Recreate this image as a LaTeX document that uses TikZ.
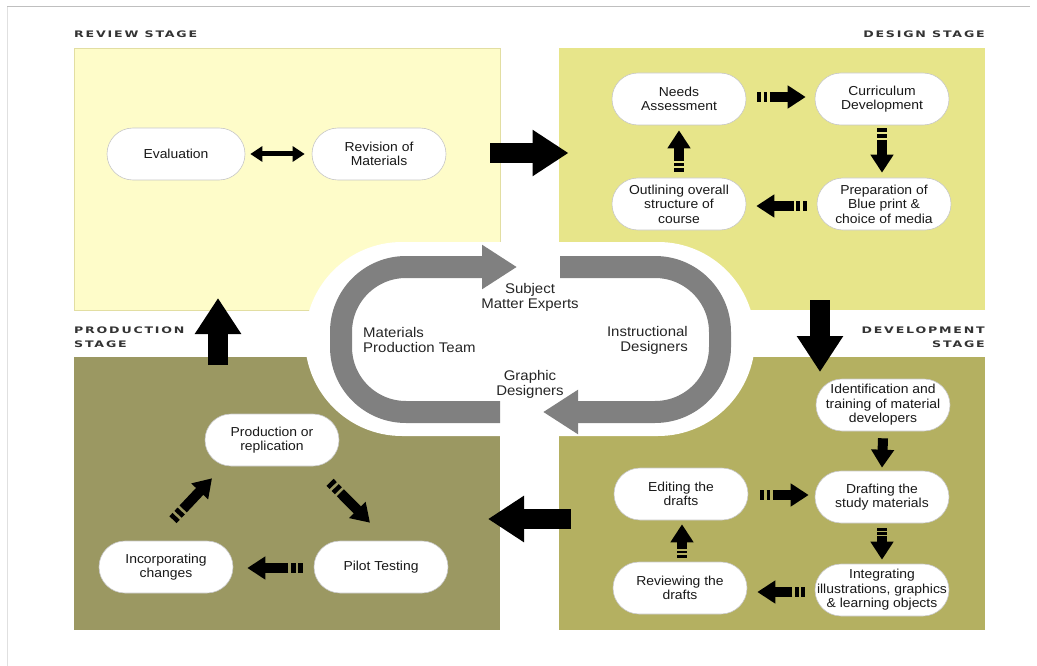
\documentclass[tikz,border=0pt]{standalone}
\usepackage{fontspec}
\setmainfont{Liberation Sans}[FakeStretch=1.07]
\newfontfamily\headfont{DejaVu Sans Bold}[FakeStretch=1.4,LetterSpace=20]
\usetikzlibrary{arrows.meta,calc}
\definecolor{revfill}{HTML}{FEFCC9}
\definecolor{revdraw}{HTML}{E2DEA2}
\definecolor{desfill}{HTML}{E7E58A}
\definecolor{prodfill}{HTML}{9B9862}
\definecolor{devfill}{HTML}{B4B061}
\definecolor{ringgray}{HTML}{808080}
\newcommand\stripearrow[2]{%
  \draw[sbar] ($(#1)!0!(#2)$) -- ($(#1)!0.08!(#2)$);
  \draw[sbar] ($(#1)!0.13!(#2)$) -- ($(#1)!0.21!(#2)$);
  \draw[sbody] ($(#1)!0.26!(#2)$) -- (#2);
}
\begin{document}
\begin{tikzpicture}[x=1pt,y=-1pt,
  quad/.style={inner sep=0pt,outer sep=0pt,minimum width=426pt,minimum height=#1},
  pill/.style={fill=white,draw=black!22,line width=0.6pt,rounded corners=26pt,
    minimum width=134pt,minimum height=52pt,inner xsep=2pt,align=center,
    font=\fontsize{13}{14.5}\selectfont,text=black!90},
  head/.style={inner sep=0pt,font=\headfont\fontsize{9}{14}\selectfont,text=black!80},
  lab/.style={inner sep=0pt,align=center,font=\fontsize{14}{15}\selectfont,text=black!85},
  sbar/.style={line width=10pt,black},
  sbody/.style={line width=10pt,black,-{Triangle[width=22pt,length=18pt]}},
  big/.style={line width=20pt,black,-{Triangle[width=44pt,length=36pt]}},
  ring/.style={line width=22pt,ringgray,rounded corners=65pt,-{Triangle[width=42pt,length=35pt]}}
]
\fill[white] (0,0) rectangle (1037,666);
\useasboundingbox (0,0) rectangle (1037,666);
\draw[black!25,line width=1pt] (7,7) -- (1030,7);
\draw[black!12,line width=0.8pt] (7,7) -- (7,666);

% quadrants
\node[quad=262pt,fill=revfill,draw=revdraw,line width=0.8pt] (revQ) at (287,179) {};
\node[quad=262pt,fill=desfill] (desQ) at (771.5,179) {};
\node[quad=273pt,fill=prodfill] (prodQ) at (287,493.5) {};
\node[quad=273pt,fill=devfill] (devQ) at (771.5,493.5) {};

% central halo and ring
\fill[white,rounded corners=97pt] (305,242) rectangle (755,436);
\draw[ring] (500,412) -- (341,412) -- (341,267) -- (517,267);
\draw[ring] (560,267) -- (720,267) -- (720,412) -- (543,412);
\node[lab] (sme) at (530,297) {Subject\\Matter Experts};
\node[lab,anchor=west,align=left] (mpt) at (363,340) {Materials\\Production Team};
\node[lab,anchor=east,align=right] (insd) at (688,340) {Instructional\\Designers};
\node[lab] (grd) at (530,384) {Graphic\\Designers};

% headings
\node[head,anchor=north west] (hrev) at (74,31) {REVIEW STAGE};
\node[head,anchor=north east] (hdes) at (985,31) {DESIGN STAGE};
\node[head,anchor=north west,align=left] (hprod) at (74,327) {PRODUCTION\\STAGE};
\node[head,anchor=north east,align=right] (hdev) at (985,327) {DEVELOPMENT\\STAGE};

% review stage
\node[pill,minimum width=138pt] (eval) at (176,154) {Evaluation};
\node[pill] (revis) at (379,154) {Revision of\\Materials};
\coordinate (ea) at ($(eval.east)+(5,0)$);
\coordinate (eb) at ($(revis.west)+(-7,0)$);
\draw[line width=5pt,{Triangle[width=15pt,length=12pt]}-{Triangle[width=15pt,length=12pt]}] (ea) -- (eb);

% design stage
\node[pill] (needs) at (679,99) {Needs\\Assessment};
\node[pill] (curr) at (882,99) {Curriculum\\Development};
\node[pill] (prep) at (884,204) {Preparation of\\Blue print \&\\choice of media};
\node[pill] (outl) at (679,204) {Outlining overall\\structure of\\course};
\coordinate (d1a) at ($(needs.east)+(11,-2)$);
\coordinate (d1b) at ($(curr.west)+(-9,-2)$);
\stripearrow{d1a}{d1b}
\coordinate (d2a) at ($(curr.south)+(0,3)$);
\coordinate (d2b) at ($(prep.north)+(-2,-5)$);
\stripearrow{d2a}{d2b}
\coordinate (d3a) at ($(prep.west)+(-10,2)$);
\coordinate (d3b) at ($(outl.east)+(10,2)$);
\stripearrow{d3a}{d3b}
\coordinate (d4a) at ($(outl.north)+(0,-6)$);
\coordinate (d4b) at ($(needs.south)+(0,5)$);
\stripearrow{d4a}{d4b}

% development stage
\node[pill] (ident) at (883,405) {Identification and\\training of material\\developers};
\node[pill] (draft) at (882,497) {Drafting the\\study materials};
\node[pill] (integ) at (882,590) {Integrating\\illustrations, graphics\\\& learning objects};
\node[pill] (edit) at (681,494) {Editing the\\drafts};
\node[pill] (revw) at (680,588) {Reviewing the\\drafts};
\coordinate (v1a) at ($(ident.south)+(0,7)$);
\coordinate (v1b) at ($(draft.north)+(0,-3)$);
\draw[sbody] (v1a) -- (v1b);
\coordinate (v2a) at ($(draft.south)+(0,5)$);
\coordinate (v2b) at ($(integ.north)+(0,-4)$);
\stripearrow{v2a}{v2b}
\coordinate (v3a) at ($(integ.west)+(-10,2)$);
\coordinate (v3b) at ($(revw.east)+(10,4)$);
\stripearrow{v3a}{v3b}
\coordinate (v4a) at ($(revw.north)+(2,-4)$);
\coordinate (v4b) at ($(edit.south)+(1,4)$);
\stripearrow{v4a}{v4b}
\coordinate (v5a) at ($(edit.east)+(12,1)$);
\coordinate (v5b) at ($(draft.west |- edit.east)+(-6,1)$);
\stripearrow{v5a}{v5b}

% production stage
\node[pill] (prod) at (272,440) {Production or\\replication};
\node[pill] (pilot) at (381,567) {Pilot Testing};
\node[pill] (incorp) at (166,567) {Incorporating\\changes};
\coordinate (p1a) at ($(prod.south)+(58,16)$);
\coordinate (p1b) at ($(pilot.north)+(-11,-18)$);
\stripearrow{p1a}{p1b}
\coordinate (p2a) at ($(pilot.west)+(-11,1)$);
\coordinate (p2b) at ($(incorp.east)+(14,1)$);
\stripearrow{p2a}{p2b}
\coordinate (p3a) at ($(incorp.north)+(7,-21)$);
\coordinate (p3b) at ($(prod.south)+(-60,12)$);
\stripearrow{p3a}{p3b}

% stage-to-stage arrows
\coordinate (b1a) at ($(revQ.east)+(-10,-26)$);
\coordinate (b1b) at ($(desQ.west)+(10,-26)$);
\draw[big] (b1a) -- (b1b);
\coordinate (b2a) at ($(desQ.south)+(48.5,-10)$);
\coordinate (b2b) at ($(devQ.north)+(48.5,15)$);
\draw[big] (b2a) -- (b2b);
\coordinate (b3a) at ($(devQ.west)+(12,25.5)$);
\coordinate (b3b) at ($(prodQ.east)+(-12,25.5)$);
\draw[big] (b3a) -- (b3b);
\coordinate (b4a) at ($(prodQ.north)+(-69,8)$);
\coordinate (b4b) at ($(revQ.south)+(-69,-12)$);
\draw[big] (b4a) -- (b4b);
\end{tikzpicture}
\end{document}
